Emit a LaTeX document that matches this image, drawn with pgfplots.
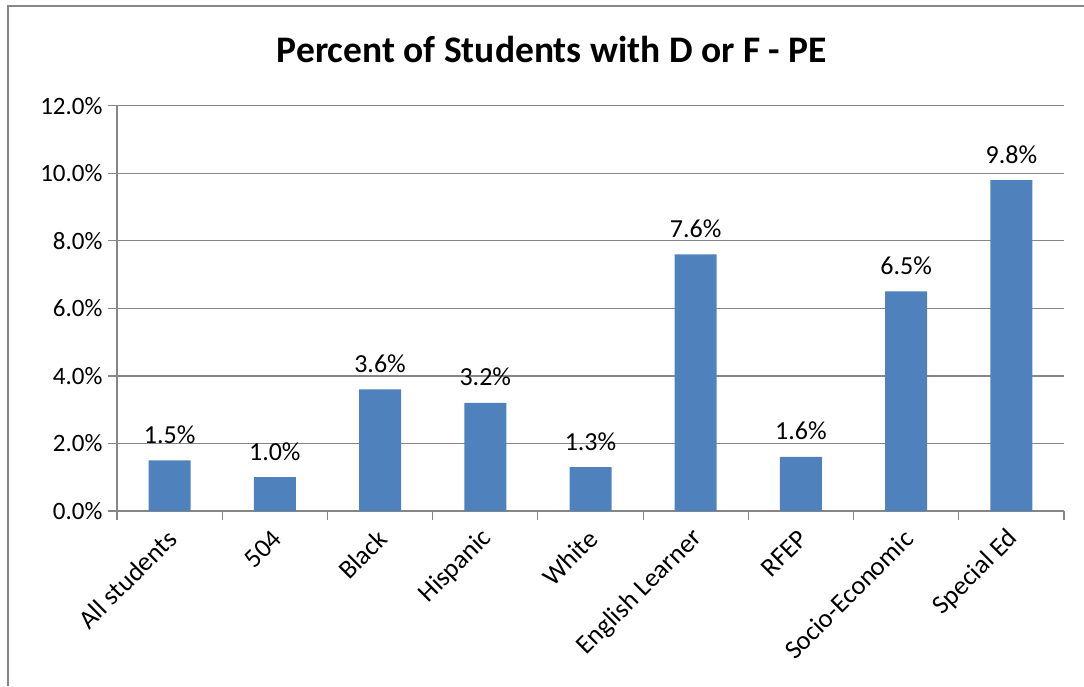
\documentclass[border=0pt]{standalone}
\usepackage{pgfplots}
\pgfplotsset{compat=1.18}
\usepackage{fontspec}
\setmainfont{Carlito}
\definecolor{barblue}{HTML}{4F81BD}
\definecolor{gridgray}{HTML}{868686}
\begin{document}
\begin{tikzpicture}[x=1pt,y=1pt]
\useasboundingbox (0,0) rectangle (1084,686);
\draw[gridgray, line width=1.5pt] (8,0) -- (8,680) -- (1084,680);
\node[anchor=base, font=\fontsize{37.5}{44}\selectfont\bfseries] at (552,623) {Percent of Students with D or F - PE};
\begin{axis}[
  at={(117pt,175pt)}, anchor=south west,
  width=947pt, height=405.3pt, scale only axis,
  xmin=-0.5, xmax=8.5, ymin=0, ymax=12,
  ytick={0,2,4,6,8,10,12},
  yticklabels={0.0\%,2.0\%,4.0\%,6.0\%,8.0\%,10.0\%,12.0\%},
  xtick={0,...,8},
  xticklabels={All students,504,Black,Hispanic,White,English Learner,RFEP,Socio-Economic,Special Ed},
  minor xtick={-0.5,0.5,...,8.5},
  axis lines*=left,
  axis line style={gridgray, line width=1.2pt},
  ymajorgrids, major grid style={gridgray, line width=1.2pt},
  tick align=outside,
  major tick length=9pt, minor tick length=9pt,
  tick style={gridgray, line width=1.2pt},
  xtick style={draw=none},
  minor x tick style={draw=gridgray, line width=1.2pt},
  ticklabel style={font=\fontsize{25}{30}\selectfont, text=black},
  yticklabel style={xshift=-2pt},
  xticklabel style={font=\fontsize{26.5}{32}\selectfont, rotate=45, anchor=east, xshift=-5pt, yshift=-12pt},
  /pgf/number format/assume math mode=true,
  clip=false,
]
\addplot[ybar, bar width=42pt, fill=barblue, draw=none,
  nodes near coords={\pgfmathprintnumber[fixed,fixed zerofill,precision=1,assume math mode=true]{\pgfplotspointmeta}\%},
  every node near coord/.append style={font=\fontsize{26}{31}\selectfont, text=black, anchor=base, inner sep=0pt, yshift=17pt},
] coordinates {(0,1.5) (1,1.0) (2,3.6) (3,3.2) (4,1.3) (5,7.6) (6,1.6) (7,6.5) (8,9.8)};
\end{axis}
\end{tikzpicture}
\end{document}
